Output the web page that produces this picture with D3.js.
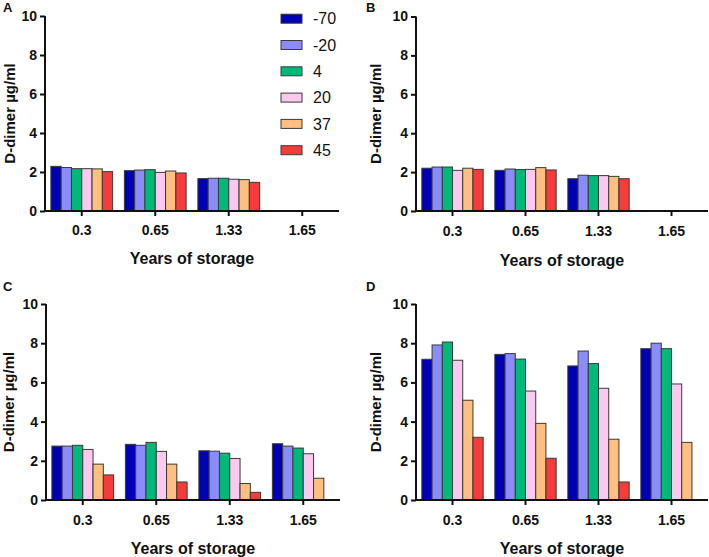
<!DOCTYPE html>
<html><head><meta charset="utf-8">
<script src="https://cdn.jsdelivr.net/npm/d3@7"></script>
<style>body{margin:0;background:#fff}svg{display:block;font-family:"Liberation Sans",Arial,sans-serif}</style>
</head><body>
<svg id="c" width="709" height="557"></svg>
<script>
const categories = ["0.3", "0.65", "1.33", "1.65"];
const series = ["-70", "-20", "4", "20", "37", "45"];
const colors = ["#0000b4", "#8c8cf8", "#00b978", "#f9c9ef", "#febf80", "#f73b3b"];
const yTicks = [0, 2, 4, 6, 8, 10];
// values[category][series]
const valuesA = [
  [2.29, 2.23, 2.17, 2.17, 2.16, 2.02],
  [2.07, 2.10, 2.12, 1.98, 2.05, 1.95],
  [1.66, 1.68, 1.68, 1.63, 1.61, 1.47],
  [null, null, null, null, null, null]
];
const valuesB = [
  [2.20, 2.26, 2.26, 2.09, 2.20, 2.14],
  [2.09, 2.16, 2.13, 2.14, 2.23, 2.11],
  [1.66, 1.84, 1.82, 1.82, 1.78, 1.66],
  [null, null, null, null, null, null]
];
const valuesC = [
  [2.75, 2.75, 2.79, 2.58, 1.83, 1.28],
  [2.84, 2.79, 2.94, 2.48, 1.83, 0.92],
  [2.51, 2.49, 2.39, 2.12, 0.84, 0.39],
  [2.87, 2.75, 2.65, 2.36, 1.11, null]
];
const valuesD = [
  [7.18, 7.91, 8.06, 7.13, 5.09, 3.20],
  [7.43, 7.47, 7.19, 5.56, 3.91, 2.13],
  [6.84, 7.60, 6.96, 5.70, 3.10, 0.92],
  [7.72, 8.00, 7.72, 5.92, 2.94, null]
];
const yTitle = "D-dimer µg/ml";
const xTitle = "Years of storage";

const panels = [
  {letter:"A", data:valuesA, ax:45, axEnd:339, y0:211, y10:16, titleX:10, letX:3, letY:12, tickLblY:235, xTitleY:264},
  {letter:"B", data:valuesB, ax:416, axEnd:708, y0:211, y10:16.5, titleX:376, letX:366, letY:12, tickLblY:236, xTitleY:266},
  {letter:"C", data:valuesC, ax:46, axEnd:340, y0:500, y10:304, titleX:9, letX:3, letY:291, tickLblY:525, xTitleY:554},
  {letter:"D", data:valuesD, ax:416, axEnd:708, y0:500, y10:304, titleX:376, letX:366, letY:291, tickLblY:525, xTitleY:554}
];

const svg = d3.select("#c");

panels.forEach(p => {
  const g = svg.append("g");
  const y = d3.scaleLinear().domain([0, 10]).range([p.y0, p.y10]);
  const x0 = d3.scaleBand().domain(categories).range([p.ax, p.axEnd]);
  const bw = x0.bandwidth();
  const x1 = d3.scaleBand().domain(series).range([bw * 0.08, bw * 0.92]);

  // bars
  categories.forEach((c, ci) => {
    series.forEach((s, si) => {
      const v = p.data[ci][si];
      if (v == null) return;
      g.append("rect")
        .attr("x", x0(c) + x1(s))
        .attr("y", y(v))
        .attr("width", x1.bandwidth())
        .attr("height", y(0) - y(v))
        .attr("fill", colors[si])
        .attr("stroke", "#3a3a3a")
        .attr("stroke-width", 1);
    });
  });

  // y axis
  const ya = g.append("g").attr("transform", `translate(${p.ax},0)`)
    .call(d3.axisLeft(y).tickValues(yTicks).tickSize(5).tickPadding(3).tickFormat(d3.format("d")));
  ya.select(".domain").attr("stroke", "#111").attr("stroke-width", 2).attr("d", `M0,${p.y0 + 1}V${p.y10}`);
  ya.selectAll(".tick line").attr("stroke", "#111").attr("stroke-width", 2);
  ya.selectAll(".tick text").attr("font-size", 14).attr("font-weight", "bold").attr("fill", "#111")
    .attr("font-family", '"Liberation Sans",Arial,sans-serif');

  // x axis
  const xa = g.append("g").attr("transform", `translate(0,${p.y0})`)
    .call(d3.axisBottom(x0).tickSize(5).tickPadding(6));
  xa.select(".domain").attr("stroke", "#111").attr("stroke-width", 2).attr("d", `M${p.ax},0H${p.axEnd}`);
  xa.selectAll(".tick line").attr("stroke", "#111").attr("stroke-width", 2);
  xa.selectAll(".tick text").remove();
  categories.forEach(c => {
    g.append("text").attr("x", x0(c) + bw / 2).attr("y", p.tickLblY)
      .attr("text-anchor", "middle").attr("font-size", 14).attr("font-weight", "bold").attr("fill", "#111")
      .text(c);
  });

  // titles
  g.append("text").attr("x", (p.ax + p.axEnd) / 2).attr("y", p.xTitleY)
    .attr("text-anchor", "middle").attr("font-size", 16).attr("font-weight", "bold").attr("fill", "#111")
    .text(xTitle);
  g.append("text")
    .attr("transform", `translate(${p.titleX + 5},${(p.y0 + p.y10) / 2}) rotate(-90)`)
    .attr("text-anchor", "middle").attr("font-size", 15).attr("font-weight", "bold").attr("fill", "#111")
    .text(yTitle);
  g.append("text").attr("x", p.letX).attr("y", p.letY)
    .attr("font-size", 13).attr("font-weight", "bold").attr("fill", "#111").text(p.letter);
});

// legend (panel A)
const leg = svg.append("g");
series.forEach((s, i) => {
  const cy = 18.7 + i * 26.3;
  leg.append("rect").attr("x", 281).attr("y", cy - 4.5).attr("width", 21).attr("height", 9)
    .attr("fill", colors[i]).attr("stroke", "#3a3a3a").attr("stroke-width", 1);
  leg.append("text").attr("x", 313).attr("y", cy).attr("dy", "0.36em")
    .attr("font-size", 16).attr("fill", "#111").text(s);
});
</script>
</body></html>
